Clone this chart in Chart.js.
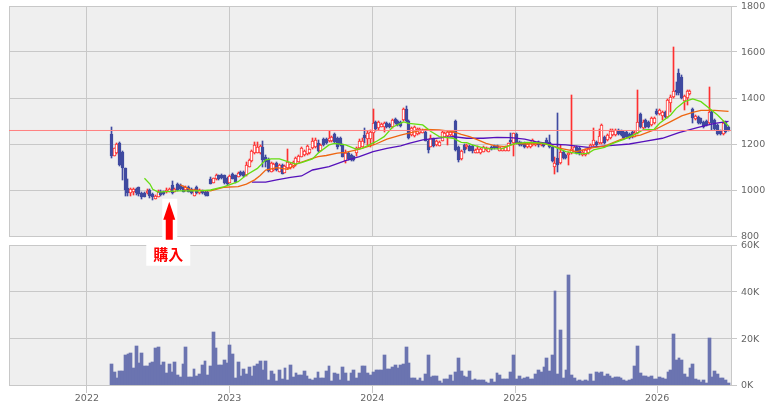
<!DOCTYPE html>
<html>
<head>
<meta charset="utf-8">
<title>週足チャート</title>
<script src="https://cdn.jsdelivr.net/npm/chart.js@4/dist/chart.umd.min.js"></script>
<style>
  html, body { margin: 0; padding: 0; background: #fff; }
  canvas { position: absolute; left: 0; top: 0; }
</style>
</head>
<body>
<canvas id="volumeChart" width="765" height="403"></canvas>
<canvas id="priceChart" width="765" height="403"></canvas>
<script>
// weekly candles, week 0 is the first trading week on the chart
const openPrices = [
  1244,1149,1160,1203,1167,1094,1007,989,990,1005,
  1012,989,986,986,1000,983,963,971,993,993,
  990,993,1022,993,1026,1022,1012,1000,1012,1005,
  976,1012,986,996,993,993,1047,1032,1047,1064,
  1064,1064,1051,1032,1068,1064,1058,1078,1078,1064,
  1102,1126,1160,1163,1160,1186,1145,1134,1080,1087,
  1116,1080,1109,1076,1094,1094,1099,1109,1123,1145,
  1152,1155,1160,1181,1186,1206,1171,1221,1221,1213,
  1213,1244,1225,1225,1196,1126,1160,1152,1148,1160,
  1181,1189,1239,1221,1221,1247,1297,1268,1276,1273,
  1290,1286,1273,1307,1300,1297,1305,1352,1300,1239,
  1235,1244,1247,1250,1254,1215,1189,1225,1196,1193,
  1215,1232,1235,1239,1236,1300,1189,1134,1196,1186,
  1192,1192,1163,1163,1160,1167,1174,1167,1186,1192,
  1192,1171,1171,1171,1171,1218,1203,1244,1210,1206,
  1203,1186,1186,1196,1196,1210,1196,1203,1218,1210,
  1189,1102,1138,1119,1165,1152,1151,1159,1167,1185,
  1181,1152,1152,1159,1181,1196,1210,1203,1203,1232,
  1217,1225,1239,1239,1261,1258,1254,1254,1243,1254,
  1232,1249,1330,1268,1304,1297,1282,1290,1345,1330,
  1322,1340,1319,1377,1406,1435,1507,1493,1388,1398,
  1417,1351,1307,1316,1311,1297,1301,1290,1340,1304,
  1282,1258,1243,1297,1275
];
const highPrices = [
  1273,1181,1205,1207,1170,1096,1047,1010,1010,1008,
  1015,993,990,1005,1005,988,980,998,1000,997,
  1007,1010,1039,1008,1032,1026,1018,1018,1016,1010,
  1003,1016,1005,1000,996,997,1055,1054,1068,1067,
  1068,1067,1056,1064,1075,1067,1080,1082,1082,1123,
  1135,1175,1210,1210,1195,1213,1152,1140,1122,1118,
  1120,1113,1113,1108,1177,1118,1127,1142,1153,1186,
  1175,1196,1180,1228,1225,1218,1200,1226,1225,1258,
  1235,1250,1230,1230,1200,1174,1165,1158,1150,1186,
  1220,1225,1268,1255,1260,1352,1302,1298,1290,1295,
  1295,1290,1310,1312,1303,1300,1355,1365,1303,1272,
  1278,1268,1268,1265,1258,1218,1239,1228,1219,1214,
  1258,1254,1258,1258,1255,1303,1192,1175,1200,1200,
  1195,1195,1178,1192,1182,1190,1185,1184,1192,1195,
  1195,1189,1184,1192,1206,1247,1250,1250,1215,1210,
  1207,1203,1207,1222,1210,1214,1206,1206,1225,1239,
  1192,1145,1334,1196,1170,1158,1166,1413,1190,1190,
  1186,1172,1180,1182,1200,1268,1215,1264,1285,1236,
  1245,1265,1265,1266,1266,1262,1258,1258,1250,1258,
  1255,1435,1336,1303,1308,1300,1316,1316,1350,1352,
  1345,1345,1395,1413,1623,1471,1526,1498,1413,1434,
  1434,1355,1326,1320,1315,1300,1305,1446,1345,1308,
  1288,1262,1298,1302,1280
];
const lowPrices = [
  1141,1149,1155,1105,1044,974,974,974,978,980,
  974,963,968,982,965,958,960,968,974,980,
  986,990,984,990,996,1000,990,996,990,982,
  974,982,984,982,975,972,1024,1030,1045,1044,
  1048,1026,1022,1030,1046,1032,1055,1060,1058,1060,
  1100,1122,1157,1160,1157,1102,1102,1080,1078,1082,
  1083,1077,1068,1073,1090,1090,1095,1105,1120,1142,
  1148,1152,1157,1178,1183,1167,1168,1193,1200,1210,
  1210,1205,1180,1190,1142,1119,1130,1128,1128,1150,
  1178,1185,1203,1196,1185,1196,1258,1263,1272,1254,
  1270,1270,1270,1287,1280,1275,1300,1297,1220,1235,
  1232,1240,1244,1247,1212,1163,1186,1189,1192,1190,
  1212,1229,1196,1236,1233,1171,1123,1130,1160,1180,
  1168,1160,1160,1160,1158,1165,1170,1165,1174,1178,
  1178,1168,1168,1168,1168,1196,1148,1200,1192,1193,
  1183,1183,1183,1192,1193,1186,1193,1189,1200,1183,
  1123,1068,1080,1113,1135,1135,1109,1155,1164,1156,
  1152,1148,1150,1155,1178,1190,1192,1198,1198,1200,
  1212,1220,1235,1235,1240,1236,1222,1228,1222,1228,
  1230,1245,1268,1264,1270,1270,1278,1285,1326,1325,
  1304,1315,1315,1340,1400,1413,1415,1394,1348,1369,
  1414,1290,1303,1287,1285,1270,1278,1285,1261,1260,
  1238,1240,1240,1250,1258
];
const closePrices = [
  1149,1181,1199,1109,1094,1000,986,1003,1005,986,
  983,971,971,997,974,968,976,993,978,983,
  1000,1005,986,1003,1000,1003,993,1012,993,986,
  1000,986,1000,986,978,976,1026,1051,1064,1047,
  1051,1029,1026,1061,1050,1035,1076,1064,1061,1109,
  1131,1171,1196,1189,1191,1131,1123,1083,1116,1113,
  1087,1109,1070,1105,1123,1113,1123,1138,1148,1181,
  1171,1192,1177,1213,1218,1170,1196,1196,1203,1225,
  1232,1210,1186,1196,1145,1163,1134,1131,1131,1181,
  1215,1215,1225,1250,1254,1290,1264,1294,1286,1290,
  1273,1273,1305,1290,1283,1278,1352,1300,1225,1268,
  1273,1264,1264,1261,1215,1174,1225,1192,1215,1210,
  1254,1250,1254,1254,1251,1174,1131,1170,1174,1196,
  1171,1171,1174,1177,1177,1186,1181,1181,1177,1181,
  1181,1186,1181,1189,1203,1207,1247,1203,1196,1196,
  1186,1199,1203,1218,1206,1196,1203,1192,1203,1186,
  1126,1119,1109,1165,1138,1138,1163,1177,1185,1159,
  1159,1167,1174,1177,1196,1217,1196,1235,1282,1203,
  1239,1258,1258,1261,1243,1239,1225,1232,1225,1232,
  1249,1297,1272,1297,1275,1275,1311,1311,1330,1348,
  1340,1319,1391,1406,1430,1427,1420,1398,1409,1430,
  1430,1311,1322,1290,1290,1275,1282,1340,1290,1264,
  1242,1243,1293,1254,1261
];
// weekly volume in thousands of shares
const volumes = [
  9.0,5.6,3.0,6.0,6.0,12.9,13.3,13.6,7.3,16.7,
  9.4,13.7,8.1,8.1,9.4,9.9,15.9,16.3,8.6,9.9,
  5.1,9.0,5.6,9.9,4.3,3.4,9.0,16.3,3.4,3.4,
  6.9,3.9,4.7,8.6,10.3,4.3,8.1,22.7,15.9,8.6,
  8.6,10.7,9.3,17.1,13.3,3.0,9.9,3.9,6.9,4.7,
  7.7,3.9,8.1,9.0,10.3,6.4,10.3,2.1,6.0,4.7,
  1.7,6.4,2.6,7.3,2.1,8.6,3.4,5.1,4.3,4.3,
  6.0,3.9,2.6,2.1,3.0,5.6,
  3.0,3.0,6.0,8.1,1.7,5.1,4.7,2.1,7.7,5.1,
  1.7,5.1,6.4,3.0,5.1,8.1,8.1,5.1,4.3,5.6,
  6.4,6.4,6.4,12.9,6.9,6.9,7.7,8.6,7.3,8.6,
  9.0,16.3,9.4,3.0,3.0,2.1,3.0,1.7,4.7,12.9,
  3.4,3.9,3.9,1.7,0.9,2.6,2.6,4.3,1.7,5.6,
  11.6,6.0,3.9,3.4,6.0,2.1,2.6,2.1,2.1,2.1,
  1.3,0.9,2.6,1.3,5.1,4.3,2.6,2.6,2.6,5.6,
  12.9,2.6,3.9,2.6,3.0,3.4,2.6,2.6,
  4.7,6.4,5.6,7.7,11.6,6.0,12.9,40.3,4.7,23.6,
  3.0,6.4,47.1,4.3,3.0,1.7,2.1,1.7,2.1,1.7,
  4.7,1.7,5.6,5.1,5.6,3.9,4.7,3.9,3.0,3.4,
  3.4,3.0,2.1,1.7,2.1,2.6,8.1,16.7,5.1,3.9,
  3.9,3.4,3.9,2.6,2.6,3.4,3.0,2.6,5.6,6.4,
  21.9,10.7,11.6,10.7,4.7,3.4,7.3,9.0,2.6,2.1,
  1.3,2.1,0.9,20.1,3.4,6.0,4.7,3.0,3.0,2.1,0.9
];

// moving averages, read at the listed weeks
const shortWeeks = [12,14,15,17,24,32,36,41,46,49,53,56,58,61,64,67,69,73,75,79,81,85,89,91,96,99,102,106,108,113,116,119,121,124,127,129,131,134,137,142,145,147,151,154,157,160,163,165,170,173,175,179,182,186,190,193,197,199,203,205,208,211,214,217,220,224];
const shortValues = [1051,1026,1003,991,996,996,1000,1015,1036,1065,1094,1131,1135,1135,1123,1113,1119,1135,1160,1196,1203,1196,1177,1181,1210,1232,1273,1296,1290,1283,1254,1232,1229,1225,1207,1206,1196,1186,1179,1180,1196,1203,1207,1206,1203,1192,1177,1167,1157,1159,1174,1185,1203,1220,1242,1261,1264,1290,1326,1355,1384,1396,1384,1355,1326,1278];
const midWeeks = [25,29,36,41,46,49,52,54,56,60,64,67,73,75,78,82,85,89,93,96,100,105,108,114,119,124,127,130,133,136,139,143,147,151,156,159,163,169,173,179,185,189,192,197,203,207,211,214,219,224];
const midValues = [1022,1000,996,1012,1015,1026,1044,1063,1087,1097,1090,1113,1138,1145,1150,1160,1164,1174,1189,1200,1221,1239,1247,1264,1261,1254,1242,1232,1218,1203,1193,1189,1203,1200,1203,1196,1181,1167,1181,1191,1220,1232,1239,1261,1297,1322,1338,1346,1346,1342];
const longWeeks = [51,56,60,65,69,73,79,85,90,95,100,105,108,113,121,124,129,135,140,145,150,154,160,165,170,173,182,188,193,200,206,213,219,224];
const longValues = [1034,1034,1044,1055,1061,1087,1102,1128,1145,1167,1181,1192,1203,1218,1229,1232,1225,1225,1229,1228,1221,1210,1199,1196,1190,1185,1194,1200,1210,1225,1249,1272,1290,1298];

const yearWeeks = [-8.9, 42.8, 94.7, 146.6, 198.1];
const yearLabels = ['2022', '2023', '2024', '2025', '2026'];
const referencePrice = 1258.7;
const buyWeek = 21;
const buyPrice = 949;
const buyLabel = '購入';

const RED = '#ff3030';
const BLUE = '#3f4aa0';
const GRID = '#c8c8c8';
const FIRST_WEEK = -37.17;
const LAST_WEEK = 224.9;
const tickFont = { family: '"DejaVu Sans"', size: 9.5 };
const isUp = i => closePrices[i] >= openPrices[i];

// shared grey plot area and outline
const plotFrame = {
  id: 'plotFrame',
  beforeDraw(chart) {
    const { ctx, chartArea: a } = chart;
    ctx.save();
    ctx.fillStyle = '#efefef';
    ctx.fillRect(a.left, a.top, a.right - a.left, a.bottom - a.top);
    ctx.restore();
  },
  beforeDatasetsDraw(chart) {
    const { ctx, chartArea: a } = chart;
    ctx.save();
    ctx.strokeStyle = GRID;
    ctx.lineWidth = 1;
    ctx.strokeRect(a.left + 0.5, a.top + 0.5, a.right - a.left, a.bottom - a.top);
    ctx.restore();
  }
};

// snap bars to whole pixels so the narrow weekly marks stay sharp
const snapBars = {
  id: 'snapBars',
  beforeDatasetsDraw(chart) {
    chart.data.datasets.forEach((set, i) => {
      if (set.type === 'line') return;
      chart.getDatasetMeta(i).data.forEach(bar => {
        const left = Math.round(bar.x - bar.width / 2);
        const right = Math.max(Math.round(bar.x + bar.width / 2), left + 1);
        bar.x = (left + right) / 2;
        bar.width = right - left;
        bar.y = Math.round(bar.y);
        bar.base = Math.round(bar.base);
        if (bar.y === bar.base) bar.base += 1;
      });
    });
  }
};

// arrow and label marking the purchase week
const buyMarker = {
  id: 'buyMarker',
  afterDraw(chart) {
    const { ctx, scales } = chart;
    const x = scales.x.getPixelForValue(buyWeek);
    const tip = scales.y.getPixelForValue(buyPrice);
    ctx.save();
    ctx.fillStyle = '#fff';
    ctx.fillRect(x - 7, tip - 3, 15, 43);
    ctx.fillRect(x - 23, tip + 40, 44, 24);
    ctx.fillStyle = '#ff0000';
    ctx.beginPath();
    ctx.moveTo(x, tip);
    ctx.lineTo(x + 6, tip + 18);
    ctx.lineTo(x + 3.5, tip + 18);
    ctx.lineTo(x + 3.5, tip + 38);
    ctx.lineTo(x - 3.5, tip + 38);
    ctx.lineTo(x - 3.5, tip + 18);
    ctx.lineTo(x - 6, tip + 18);
    ctx.closePath();
    ctx.fill();
    ctx.font = 'bold 15px "Noto Sans CJK JP"';
    ctx.textAlign = 'center';
    ctx.textBaseline = 'middle';
    ctx.fillText(buyLabel, x - 1, tip + 53);
    ctx.restore();
  }
};

function lineSet(weeks, values, color, order) {
  return {
    type: 'line',
    data: weeks.map((w, i) => ({ x: w, y: values[i] })),
    borderColor: color,
    borderWidth: 1.3,
    pointRadius: 0,
    tension: 0,
    order
  };
}

function xAxis(showLabels) {
  return {
    type: 'linear',
    offset: false,
    min: FIRST_WEEK,
    max: LAST_WEEK,
    afterBuildTicks: scale => { scale.ticks = yearWeeks.map(v => ({ value: v })); },
    afterFit: scale => { scale.height = showLabels ? 18 : 0; },
    grid: { offset: false, color: GRID, drawTicks: showLabels, tickLength: 8 },
    border: { display: false },
    ticks: {
      display: showLabels,
      autoSkip: false,
      maxRotation: 0,
      padding: 0,
      color: '#666',
      font: tickFont,
      callback: v => yearLabels[yearWeeks.indexOf(v)]
    }
  };
}

function yAxis(min, max, step, format) {
  return {
    position: 'right',
    min,
    max,
    afterFit: scale => {
      scale.width = 34;
      scale.paddingTop = 0;
      scale.paddingBottom = 0;
    },
    grid: { color: GRID, tickLength: 6 },
    border: { display: false },
    ticks: { stepSize: step, padding: 4, labelOffset: 1, color: '#666', font: tickFont, callback: format }
  };
}

new Chart(document.getElementById('priceChart'), {
  type: 'bar',
  data: {
    datasets: [
      {
        // wicks
        data: lowPrices.map((l, i) => ({ x: i, y: [l, highPrices[i]] })),
        backgroundColor: lowPrices.map((_, i) => isUp(i) ? RED : BLUE),
        barThickness: 1,
        grouped: false,
        order: 6
      },
      {
        // bodies, rising weeks are hollow
        data: openPrices.map((o, i) => ({ x: i, y: [o, closePrices[i]] })),
        backgroundColor: openPrices.map((_, i) => isUp(i) ? '#fff' : BLUE),
        borderColor: openPrices.map((_, i) => isUp(i) ? RED : BLUE),
        borderWidth: 1,
        borderSkipped: false,
        barThickness: 3,
        grouped: false,
        order: 5
      },
      lineSet(longWeeks, longValues, '#5511bb', 4),
      lineSet(midWeeks, midValues, '#ee6611', 3),
      lineSet(shortWeeks, shortValues, '#66dd11', 2),
      {
        type: 'line',
        data: [{ x: FIRST_WEEK, y: referencePrice }, { x: LAST_WEEK, y: referencePrice }],
        borderColor: '#ff8080',
        borderWidth: 1,
        pointRadius: 0,
        order: 1
      }
    ]
  },
  options: {
    responsive: false,
    animation: false,
    layout: { padding: { left: 9, top: 6, right: 0, bottom: 167 } },
    plugins: { legend: { display: false }, tooltip: { enabled: false } },
    scales: {
      x: xAxis(false),
      y: yAxis(800, 1800, 200, v => String(v))
    }
  },
  plugins: [plotFrame, snapBars, buyMarker]
});

new Chart(document.getElementById('volumeChart'), {
  type: 'bar',
  data: {
    datasets: [{
      data: volumes.map((v, i) => ({ x: i, y: v })),
      backgroundColor: '#6b74b0',
      barThickness: 2.76
    }]
  },
  options: {
    responsive: false,
    animation: false,
    layout: { padding: { left: 9, top: 245, right: 0, bottom: 0 } },
    plugins: { legend: { display: false }, tooltip: { enabled: false } },
    scales: {
      x: xAxis(true),
      y: yAxis(0, 60, 20, v => v + 'K')
    }
  },
  plugins: [plotFrame, snapBars]
});
</script>
</body>
</html>
